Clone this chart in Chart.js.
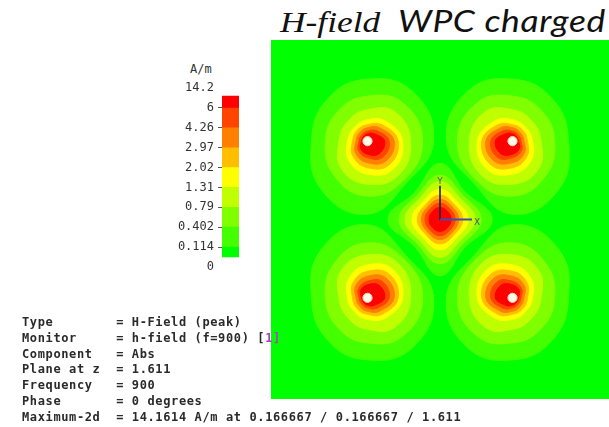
<!DOCTYPE html>
<html>
<head>
<meta charset="utf-8">
<script src="https://cdn.jsdelivr.net/npm/chart.js@4/dist/chart.umd.min.js"></script>
<style>
  html, body { margin: 0; padding: 0; background: #fff; width: 609px; height: 427px; overflow: hidden; position: relative; }
  #title { position: absolute; left: 280px; top: 5px; font-size: 30px; line-height: 30px; white-space: pre; color: #111;
           font-style: italic; transform-origin: left top; transform: scaleX(1.18); }
  #title .h { font-family: "Liberation Serif", serif; }
  #title .w { font-family: Lato, sans-serif; letter-spacing: 0.5px; }
  #field { position: absolute; left: 271px; top: 40px; }
  #scale { position: absolute; left: 177px; top: 67px; }
  #unit { position: absolute; left: 190px; top: 62px; font: 12px "DejaVu Sans Mono", monospace; color: #333; }
  #info { position: absolute; left: 22px; top: 315px; margin: 0; font: bold 12px "DejaVu Sans Mono", monospace;
          letter-spacing: 0.62px; line-height: 15.8px; white-space: pre; color: #2a2a2a; z-index: 2; }
  #info .m { color: #b040c0; }
</style>
</head>
<body>
<div id="title"><span class="h">H-field</span>  <span class="w">WPC charged</span></div>
<div id="unit">A/m</div>
<canvas id="scale" width="62" height="221"></canvas>
<canvas id="field" width="338" height="359"></canvas>
<div id="info">Type        = H-Field (peak)
Monitor     = h-field (f=900) [<span class="m">1]</span>
Component   = Abs
Plane at z  = 1.611
Frequency   = 900
Phase       = 0 degrees
Maximum-2d  = 14.1614 A/m at 0.166667 / 0.166667 / 1.611</div>
<script>
// Extent of the z = 1.611 cut plane shown in the field view (model units)
const fieldX = [-0.3885, 0.3885];
const fieldY = [-0.3819, 0.3819];

// Colour map: contour levels in A/m and the band colours between them
const levelTicks = ['0', '0.114', '0.402', '0.79', '1.31', '2.02', '2.97', '4.26', '6', '14.2'];
const bandColors = ['#00ff00', '#44ff00', '#80ff00', '#bfff00', '#ffff00', '#ffbf00', '#ff8000', '#ff4400', '#ff0000'];
// Colour bar bands on the level-index axis
const bandLow  = [0.5, 1, 2, 3, 4, 5, 6, 7, 8];
const bandHigh = [1, 2, 3, 4, 5, 6, 7, 8, 8.6];

// Corner sources (the four hot spots)
const sourceX = [-0.166667, 0.166667, -0.166667, 0.166667];
const sourceY = [0.166667, 0.166667, -0.166667, -0.166667];

// Contour radius around the upper-left source, directions E, NE, N, NW, W, SW, S, SE;
// the other three corners are its mirror images
const corner0114 = [0.1517, 0.1482, 0.1319, 0.1283, 0.1287, 0.1482, 0.1553, 0.1261];
const corner0402 = [0.1264, 0.1150, 0.0957, 0.0929, 0.0966, 0.1062, 0.1170, 0.1173];
const corner079  = [0.0989, 0.0885, 0.0670, 0.0619, 0.0655, 0.0841, 0.0915, 0.1018];
const corner131  = [0.0805, 0.0597, 0.0457, 0.0420, 0.0460, 0.0597, 0.0702, 0.0841];
const corner202  = [0.0701, 0.0487, 0.0351, 0.0332, 0.0345, 0.0465, 0.0564, 0.0708];
const corner297  = [0.0609, 0.0398, 0.0287, 0.0254, 0.0264, 0.0376, 0.0457, 0.0597];
const corner426  = [0.0494, 0.0310, 0.0213, 0.0188, 0.0195, 0.0288, 0.0351, 0.0487];
const corner6    = [0.0391, 0.0221, 0.0160, 0.0133, 0.0138, 0.0221, 0.0277, 0.0376];

// Central spot contours (levels 0.114 ... 6): radius along the axes and along the diagonals
const centerRadiusAxis = [0.1195, 0.0943, 0.0805, 0.0644, 0.0517, 0.0425, 0.0345, 0.0253];
const centerRadiusDiag = [0.0822, 0.0733, 0.0644, 0.0544, 0.0456, 0.0389, 0.0322, 0.0244];

// Coordinate triad at the origin
const triadX = [0, 0.0736];
const triadY = [0, 0.0720];

const cornerLevels = [corner0114, corner0402, corner079, corner131, corner202, corner297, corner426, corner6];
const dirs = [0, 45, 90, 135, 180, 225, 270, 315].map(d => d * Math.PI / 180);

// Closed outline through the eight radial points (repeated ends keep the spline round)
function ring(cx, cy, radii, mx, my) {
  const pts = radii.map((r, k) => ({ x: cx + mx * r * Math.cos(dirs[k]), y: cy + my * r * Math.sin(dirs[k]) }));
  return [pts[7], ...pts, pts[0], pts[1]];
}

function patch(data, color) {
  return { data, showLine: true, fill: 'shape', backgroundColor: color, borderColor: color,
           borderWidth: 1, pointRadius: 0, tension: 0.45 };
}

const layers = [];
layers.push({ ...patch([
  { x: fieldX[0], y: fieldY[0] }, { x: fieldX[1], y: fieldY[0] },
  { x: fieldX[1], y: fieldY[1] }, { x: fieldX[0], y: fieldY[1] }, { x: fieldX[0], y: fieldY[0] }
], bandColors[0]), tension: 0 });

cornerLevels.forEach((radii, i) => {
  const color = bandColors[i + 1];
  sourceX.forEach((sx, j) => {
    layers.push(patch(ring(sx, sourceY[j], radii, -Math.sign(sx), Math.sign(sourceY[j])), color));
  });
  const ra = centerRadiusAxis[i], rd = centerRadiusDiag[i];
  layers.push(patch(ring(0, 0, [ra, rd, ra, rd, ra, rd, ra, rd], 1, 1), color));
});

// Feed points at the corner sources
layers.push({ data: sourceX.map((x, j) => ({ x, y: sourceY[j] })), showLine: false,
  pointRadius: 4.6, pointBackgroundColor: '#fff9e8', pointBorderColor: '#eedcb8', pointBorderWidth: 1 });

// Triad axes
layers.push({ data: [{ x: triadX[0], y: triadY[0] }, { x: triadX[0], y: triadY[1] }], showLine: true,
  borderColor: '#1d1d4a', borderWidth: 1.6, pointRadius: 0, fill: false });
layers.push({ data: [{ x: triadX[0], y: triadY[0] }, { x: triadX[1], y: triadY[0] }], showLine: true,
  borderColor: '#3c4fb0', borderWidth: 2, pointRadius: 0, fill: false });

// later layers sit on top
layers.forEach((d, i) => { d.order = layers.length - i; });

const triadLabels = {
  id: 'triadLabels',
  afterDatasetsDraw(chart) {
    const { ctx, scales: { x, y } } = chart;
    ctx.save();
    ctx.font = '9px "DejaVu Sans", sans-serif';
    ctx.fillStyle = '#5b4d86';
    ctx.textAlign = 'center';
    ctx.textBaseline = 'middle';
    ctx.fillText('Y', x.getPixelForValue(triadX[0]), y.getPixelForValue(triadY[1]) - 4);
    ctx.fillText('X', x.getPixelForValue(triadX[1]) + 5, y.getPixelForValue(triadY[0]) + 3);
    ctx.restore();
  }
};

new Chart(document.getElementById('field'), {
  type: 'scatter',
  data: { datasets: layers },
  options: {
    responsive: false, animation: false, devicePixelRatio: 1,
    layout: { padding: 0, autoPadding: false },
    plugins: { legend: { display: false }, tooltip: { enabled: false } },
    scales: {
      x: { type: 'linear', min: fieldX[0], max: fieldX[1], display: false },
      y: { type: 'linear', min: fieldY[0], max: fieldY[1], display: false }
    }
  },
  plugins: [triadLabels]
});

// Colour bar with the level values as its axis
new Chart(document.getElementById('scale'), {
  type: 'bar',
  data: {
    labels: [''],
    datasets: bandColors.map((c, i) => ({
      data: [[bandLow[i], bandHigh[i]]], backgroundColor: c, borderWidth: 0,
      grouped: false, barPercentage: 1, categoryPercentage: 1
    }))
  },
  options: {
    responsive: false, animation: false, devicePixelRatio: 1,
    layout: { padding: { top: 10, bottom: 10, left: 0, right: 0 }, autoPadding: false },
    plugins: { legend: { display: false }, tooltip: { enabled: false } },
    scales: {
      x: { display: false },
      y: {
        min: -0.5, max: 9.5,
        afterBuildTicks: s => { s.ticks = levelTicks.map((_, i) => ({ value: i })); },
        afterFit: s => { s.width = 45; },
        ticks: { callback: v => levelTicks[v], font: { family: 'DejaVu Sans Mono', size: 12 }, color: '#333', padding: 4, autoSkip: false },
        grid: { drawOnChartArea: false, drawTicks: true, tickLength: 4,
                color: c => (c.index === 0 || c.index === levelTicks.length - 1) ? 'rgba(0,0,0,0)' : '#555' },
        border: { display: false }
      }
    }
  }
});
</script>
</body>
</html>
